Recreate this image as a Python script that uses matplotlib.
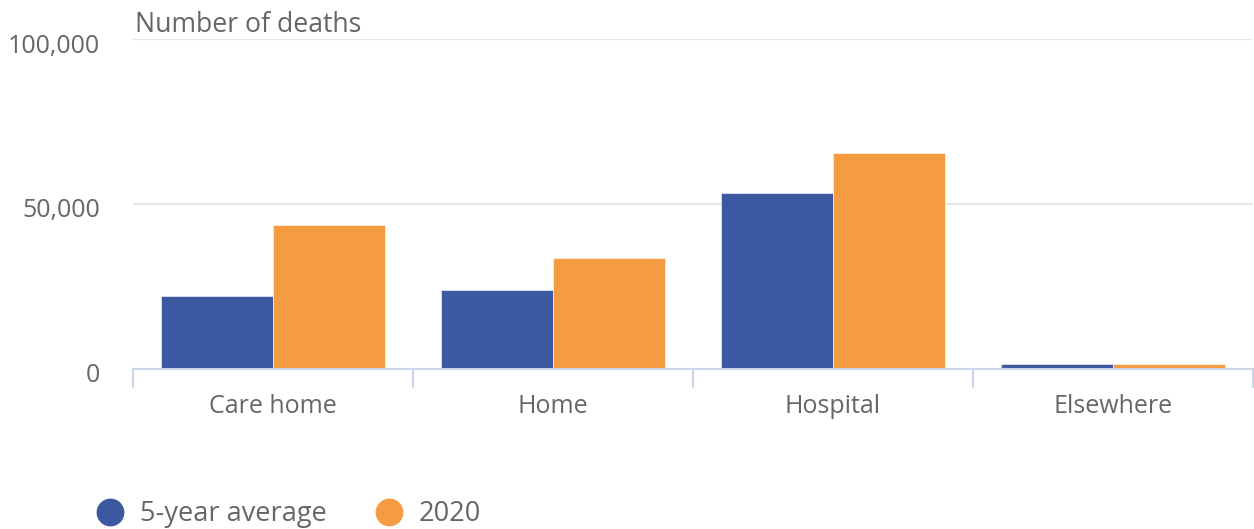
import matplotlib
matplotlib.use("Agg")
import matplotlib.pyplot as plt
import matplotlib.transforms as mtransforms
from matplotlib.lines import Line2D
import numpy as np

categories = ["Care home", "Home", "Hospital", "Elsewhere"]
avg5 = [21900, 23800, 53200, 1450]
y2020 = [43700, 33500, 65400, 1400]
series_names = ["5-year average", "2020"]
yticks = [0, 50000, 100000]

BLUE = "#3c58a0"
ORANGE = "#f59c42"
TXT = "#666666"

plt.rcParams['font.family'] = ['Open Sans', 'DejaVu Sans']

fig = plt.figure(figsize=(12.54, 5.29), dpi=100)
ax = fig.add_axes([133/1254, 1-368.5/529, (1253-133)/1254, (368.5-39)/529])

x = np.arange(len(categories))
w = 0.4
ax.bar(x - w/2, avg5, width=w, color=BLUE, zorder=3, edgecolor="white", linewidth=0.4)
ax.bar(x + w/2, y2020, width=w, color=ORANGE, zorder=3, edgecolor="white", linewidth=0.4)

ax.set_xlim(-0.5, len(categories) - 0.5)
ax.set_ylim(0, 100000)
ax.set_yticks(yticks)
ax.set_yticklabels([f"{v:,}" for v in yticks])
ax.set_xticks(x)
ax.set_xticklabels(categories)
ax.set_xticks(np.arange(-0.5, len(categories), 1.0), minor=True)

for s in ["top", "right", "left"]:
    ax.spines[s].set_visible(False)
ax.spines["bottom"].set_color("#ccd6eb")
ax.spines["bottom"].set_linewidth(1.5)
ax.spines["bottom"].set_zorder(4)

ax.yaxis.grid(True, color="#e6e6e6", linewidth=1.5, zorder=0)
ax.tick_params(axis="y", length=0, pad=24, labelsize=18, labelcolor=TXT)
ax.tick_params(axis="x", which="major", length=0, pad=18.5, labelsize=18, labelcolor=TXT)
ax.tick_params(axis="x", which="minor", length=14, width=1.5, color="#ccd6eb")

offset = mtransforms.ScaledTranslation(0, -4/100, fig.dpi_scale_trans)
for lab in ax.get_yticklabels():
    lab.set_transform(lab.get_transform() + offset)

fig.text(135/1254, 1-24.5/529, "Number of deaths", fontsize=19.2, color=TXT, ha="left", va="center")

handles = [Line2D([], [], marker="o", linestyle="none", markersize=19, color=BLUE),
           Line2D([], [], marker="o", linestyle="none", markersize=19, color=ORANGE)]
fig.legend(handles, series_names, loc="center left", bbox_to_anchor=(94/1254, 1-514/529),
           ncol=2, frameon=False, fontsize=19.5, labelcolor=TXT, handletextpad=0.5,
           columnspacing=1.7, handlelength=1.2, borderaxespad=0, borderpad=0)

fig.savefig("out.png", dpi=100)
